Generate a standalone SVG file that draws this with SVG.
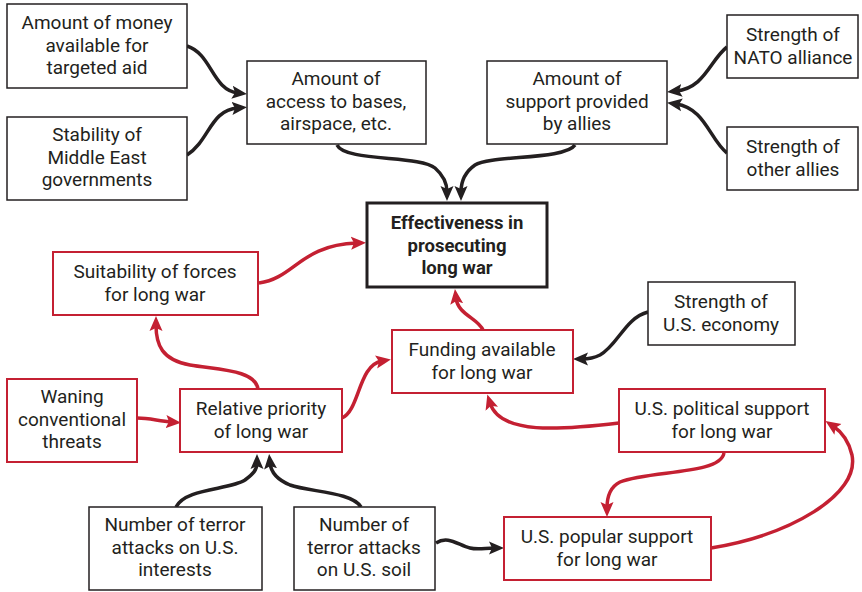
<svg xmlns="http://www.w3.org/2000/svg" width="862" height="592" viewBox="0 0 862 592">
<style>
.bk{fill:#fff;stroke:#231f20;stroke-width:1.5}
.rd{fill:#fff;stroke:#c42032;stroke-width:2}
.main{fill:#fff;stroke:#231f20;stroke-width:3}
text{font-family:Roboto,"Open Sans",sans-serif;font-size:19px;fill:#231f20;text-anchor:middle}
.b{font-weight:bold;font-size:18.5px}
.cb{fill:none;stroke:#231f20;stroke-width:3.5;marker-end:url(#ab)}
.cr{fill:none;stroke:#c42032;stroke-width:3.5;marker-end:url(#ar)}
</style>
<defs>
<marker id="ab" markerUnits="userSpaceOnUse" markerWidth="16" markerHeight="14" refX="6" refY="7" orient="auto" viewBox="0 0 16 14"><path d="M0,0.5 L15,7 L0,13.5 L3,7 z" fill="#231f20"/></marker>
<marker id="ar" markerUnits="userSpaceOnUse" markerWidth="16" markerHeight="14" refX="6" refY="7" orient="auto" viewBox="0 0 16 14"><path d="M0,0.5 L15,7 L0,13.5 L3,7 z" fill="#c42032"/></marker>
</defs>
<g id="connectors">
<path class="cb" d="M187,46 C212,54 212,90 238,93"/>
<path class="cb" d="M187,155 C210,140 210,110 238,108"/>
<path class="cb" d="M337,145 C345,162 420,155 435,168 C443,175 447,183 447,192"/>
<path class="cb" d="M575,145 C565,160 490,155 475,165 C465,172 461,182 461,192"/>
<path class="cb" d="M727,47 C710,60 705,88 676,91"/>
<path class="cb" d="M727,153 C710,140 705,108 676,104"/>
<path class="cr" d="M259,283 C295,278 300,245 357,243"/>
<path class="cr" d="M258,389 C255,370 220,370 190,365 C162,360 156,345 156,325"/>
<path class="cr" d="M137,418 C150,418 158,421 172,422"/>
<path class="cr" d="M342,418 C360,410 358,365 382,361"/>
<path class="cr" d="M483,330 C478,318 458,315 456,298"/>
<path class="cr" d="M619,423 C560,430 500,435 490,403"/>
<path class="cr" d="M711,548 C790,535 860,495 852,455 C849,442 842,432 833,426"/>
<path class="cr" d="M724,453 C720,475 650,470 620,482 C610,487 607,497 607,508"/>
<path class="cb" d="M176,507 C185,488 230,490 245,480 C253,474 257,470 257,463"/>
<path class="cb" d="M361,507 C352,492 310,492 290,485 C278,480 271,473 270,463"/>
<path class="cb" d="M436,543 C448,535 458,545 470,548 C478,550 485,548 495,548"/>
<path class="cb" d="M648,312 C625,318 618,345 600,355 C594,358 588,359 582,359"/>
</g>
<g id="n-money"><rect class="bk" x="7" y="4" width="180" height="84"/><text x="97" y="29">Amount of money</text><text x="97" y="51.5">available for</text><text x="97" y="74">targeted aid</text></g>
<g id="n-stability"><rect class="bk" x="7" y="117" width="180" height="83"/><text x="97" y="141">Stability of</text><text x="97" y="163.5">Middle East</text><text x="97" y="186">governments</text></g>
<g id="n-access"><rect class="bk" x="247" y="61" width="179" height="83"/><text x="336" y="85">Amount of</text><text x="336" y="107.5">access to bases,</text><text x="336" y="130">airspace, etc.</text></g>
<g id="n-support"><rect class="bk" x="487" y="61" width="180" height="83"/><text x="577" y="85">Amount of</text><text x="577" y="107.5">support provided</text><text x="577" y="130">by allies</text></g>
<g id="n-nato"><rect class="bk" x="727" y="15" width="131" height="63"/><text x="793" y="41">Strength of</text><text x="793" y="63.5">NATO alliance</text></g>
<g id="n-other"><rect class="bk" x="727" y="127" width="131" height="63"/><text x="793" y="153">Strength of</text><text x="793" y="175.5">other allies</text></g>
<g id="n-effect"><rect class="main" x="367" y="203" width="180" height="84"/><text class="b" x="457" y="229">Effectiveness in</text><text class="b" x="457" y="251.5">prosecuting</text><text class="b" x="457" y="274">long war</text></g>
<g id="n-suit"><rect class="rd" x="53" y="252" width="205" height="63"/><text x="155" y="278">Suitability of forces</text><text x="155" y="300.5">for long war</text></g>
<g id="n-waning"><rect class="rd" x="7" y="379" width="130" height="83"/><text x="72" y="403">Waning</text><text x="72" y="425.5">conventional</text><text x="72" y="448">threats</text></g>
<g id="n-relative"><rect class="rd" x="180" y="389" width="162" height="63"/><text x="261" y="415">Relative priority</text><text x="261" y="437.5">of long war</text></g>
<g id="n-funding"><rect class="rd" x="392" y="330" width="181" height="63"/><text x="482" y="356">Funding available</text><text x="482" y="378.5">for long war</text></g>
<g id="n-economy"><rect class="bk" x="648" y="282" width="147" height="63"/><text x="721" y="308">Strength of</text><text x="721" y="330.5">U.S. economy</text></g>
<g id="n-political"><rect class="rd" x="619" y="389" width="206" height="63"/><text x="722" y="415">U.S. political support</text><text x="722" y="437.5">for long war</text></g>
<g id="n-interests"><rect class="bk" x="89" y="507" width="173" height="83"/><text x="175" y="531">Number of terror</text><text x="175" y="553.5">attacks on U.S.</text><text x="175" y="576">interests</text></g>
<g id="n-soil"><rect class="bk" x="294" y="507" width="141" height="83"/><text x="364" y="531">Number of</text><text x="364" y="553.5">terror attacks</text><text x="364" y="576">on U.S. soil</text></g>
<g id="n-popular"><rect class="rd" x="504" y="517" width="207" height="63"/><text x="607" y="543">U.S. popular support</text><text x="607" y="565.5">for long war</text></g>
</svg>
